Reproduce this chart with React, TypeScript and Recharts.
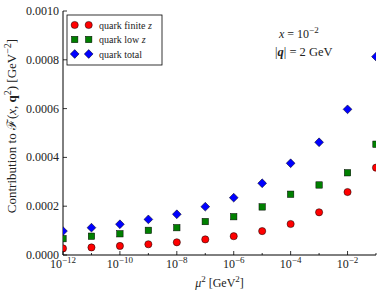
import { ScatterChart, Scatter, XAxis, YAxis } from 'recharts';

const exponents = [-12, -11, -10, -9, -8, -7, -6, -5, -4, -3, -2, -1];
const finiteZ = [0.000027, 0.000031, 0.000037, 0.000044, 0.000052, 0.000064, 0.000077, 0.000098, 0.000127, 0.000175, 0.000258, 0.000358];
const lowZ = [0.000067, 0.000077, 0.000087, 0.000101, 0.000112, 0.000137, 0.000157, 0.000197, 0.000249, 0.000287, 0.000337, 0.000454];
const total = [0.000098, 0.000112, 0.000126, 0.000146, 0.000167, 0.000198, 0.000235, 0.000294, 0.000376, 0.000462, 0.000597, 0.000813];

const xTickExps = [-12, -11, -10, -9, -8, -7, -6, -5, -4, -3, -2, -1];
const yTicks = [0, 0.0002, 0.0004, 0.0006, 0.0008, 0.001];

const font = '"Liberation Serif", "DejaVu Serif", serif';
const textColor = '#222';

const W = 382;
const H = 295;
const M = { top: 11, right: 6, bottom: 0, left: 0 };
const Y_AXIS_W = 63;
const X_AXIS_H = 40;

const makeData = (vals: number[]) => exponents.map((e, i) => ({ mu2: Math.pow(10, e), v: vals[i] }));

const finiteData = makeData(finiteZ);
const lowData = makeData(lowZ);
const totalData = makeData(total);

const Circle = (p: any) => (
  <circle cx={p.cx} cy={p.cy} r={3.6} fill="#ff0000" stroke="#000" strokeWidth={0.5} />
);
const Square = (p: any) => (
  <rect x={p.cx - 3.2} y={p.cy - 3.2} width={6.4} height={6.4} fill="#008000" stroke="#000" strokeWidth={0.5} />
);
const Diamond = (p: any) => (
  <polygon
    points={`${p.cx},${p.cy - 4.4} ${p.cx + 4.4},${p.cy} ${p.cx},${p.cy + 4.4} ${p.cx - 4.4},${p.cy}`}
    fill="#0000ff"
    stroke="#000"
    strokeWidth={0.5}
  />
);

const expOf = (v: number) => Math.round(Math.log10(v));

const BottomTick = (p: any) => {
  const e = expOf(p.payload.value);
  const major = e % 2 === 0;
  return (
    <g>
      <line x1={p.x} x2={p.x} y1={p.y} y2={p.y - (major ? 4 : 2)} stroke="#000" strokeWidth={0.8} />
      {major && (
        <text x={p.x} y={p.y + 13} textAnchor="middle" fontFamily={font} fontSize={12} fill={textColor}>
          10
          <tspan dy={-5} fontSize={9}>{`\u2212${Math.abs(e)}`}</tspan>
        </text>
      )}
    </g>
  );
};

const TopTick = (p: any) => {
  const e = expOf(p.payload.value);
  const major = e % 2 === 0;
  return <line x1={p.x} x2={p.x} y1={p.y} y2={p.y + (major ? 4 : 2)} stroke="#000" strokeWidth={0.8} />;
};

const LeftTick = (p: any) => (
  <g>
    <line x1={p.x} x2={p.x + 4} y1={p.y} y2={p.y} stroke="#000" strokeWidth={0.8} />
    <text x={p.x - 4} y={p.y + 4} textAnchor="end" fontFamily={font} fontSize={12} fill={textColor}>
      {Number(p.payload.value).toFixed(4)}
    </text>
  </g>
);

const RightTick = (p: any) => (
  <line x1={p.x} x2={p.x - 4} y1={p.y} y2={p.y} stroke="#000" strokeWidth={0.8} />
);

const legendRows = [
  { name: 'quark finite ', italic: 'z', y: 25, Shape: Circle },
  { name: 'quark low ', italic: 'z', y: 39.5, Shape: Square },
  { name: 'quark total', italic: '', y: 54, Shape: Diamond },
];

export default function App() {
  const ticksX = xTickExps.map((e) => Math.pow(10, e));
  const axisLine = { stroke: '#000', strokeWidth: 1 };
  return (
    <div style={{ position: 'absolute', left: 0, top: 0, width: W, height: H, background: '#fff' }}>
      <ScatterChart width={W} height={H} margin={M}>
        <XAxis
          xAxisId="b"
          dataKey="mu2"
          type="number"
          scale="log"
          domain={[1e-12, 1e-1]}
          allowDataOverflow
          ticks={ticksX}
          interval={0}
          height={X_AXIS_H}
          tickSize={0}
          tickMargin={0}
          tickLine={false}
          axisLine={axisLine}
          tick={<BottomTick />}
        />
        <XAxis
          xAxisId="t"
          orientation="top"
          dataKey="mu2"
          type="number"
          scale="log"
          domain={[1e-12, 1e-1]}
          allowDataOverflow
          ticks={ticksX}
          interval={0}
          height={0}
          tickSize={0}
          tickMargin={0}
          tickLine={false}
          axisLine={axisLine}
          tick={<TopTick />}
        />
        <YAxis
          yAxisId="l"
          dataKey="v"
          type="number"
          domain={[0, 0.001]}
          ticks={yTicks}
          interval={0}
          width={Y_AXIS_W}
          tickSize={0}
          tickMargin={0}
          tickLine={false}
          axisLine={axisLine}
          tick={<LeftTick />}
        />
        <YAxis
          yAxisId="r"
          orientation="right"
          dataKey="v"
          type="number"
          domain={[0, 0.001]}
          ticks={yTicks}
          interval={0}
          width={0}
          tickSize={0}
          tickMargin={0}
          tickLine={false}
          axisLine={axisLine}
          tick={<RightTick />}
        />
        <Scatter xAxisId="b" yAxisId="l" data={finiteData} shape={<Circle />} isAnimationActive={false} />
        <Scatter xAxisId="b" yAxisId="l" data={lowData} shape={<Square />} isAnimationActive={false} />
        <Scatter xAxisId="b" yAxisId="l" data={totalData} shape={<Diamond />} isAnimationActive={false} />
      </ScatterChart>
      <svg
        width={W}
        height={H}
        style={{ position: 'absolute', left: 0, top: 0, pointerEvents: 'none' }}
        fontFamily={font}
      >
        {/* legend */}
        <rect x={67} y={15} width={95} height={50} fill="#fff" stroke="#000" strokeWidth={0.8} />
        {legendRows.map((r) => (
          <g key={r.name}>
            <r.Shape cx={74.7} cy={r.y} />
            <r.Shape cx={88.7} cy={r.y} />
            <text x={99} y={r.y + 3.5} fontSize={10} fill={textColor}>
              {r.name}
              {r.italic && <tspan fontStyle="italic">{r.italic}</tspan>}
            </text>
          </g>
        ))}
        {/* annotation */}
        <text x={279} y={38} fontSize={12} fill={textColor}>
          <tspan fontStyle="italic">x</tspan> = 10
          <tspan dy={-5} fontSize={9}>{'\u22122'}</tspan>
        </text>
        <text x={275} y={56} fontSize={12.5} fill={textColor}>
          |<tspan fontWeight="bold" fontStyle="italic">q</tspan>| = 2 GeV
        </text>
        {/* axis labels */}
        <text x={219.5} y={287} textAnchor="middle" fontSize={12} fill={textColor}>
          <tspan fontStyle="italic">μ</tspan>
          <tspan dy={-5} fontSize={9}>2</tspan>
          <tspan dy={5}> [GeV</tspan>
          <tspan dy={-5} fontSize={9}>2</tspan>
          <tspan dy={5}>]</tspan>
        </text>
        <text
          x={0}
          y={0}
          transform="translate(16,126) rotate(-90)"
          textAnchor="middle"
          fontSize={13}
          fill={textColor}
        >
          Contribution to ℱ(<tspan fontStyle="italic">x</tspan>,{' '}
          <tspan fontWeight="bold">q</tspan>
          <tspan dy={-5} fontSize={10}>2</tspan>
          <tspan dy={5}>) [GeV</tspan>
          <tspan dy={-5} fontSize={10}>{'\u22122'}</tspan>
          <tspan dy={5}>]</tspan>
        </text>
      </svg>
    </div>
  );
}
